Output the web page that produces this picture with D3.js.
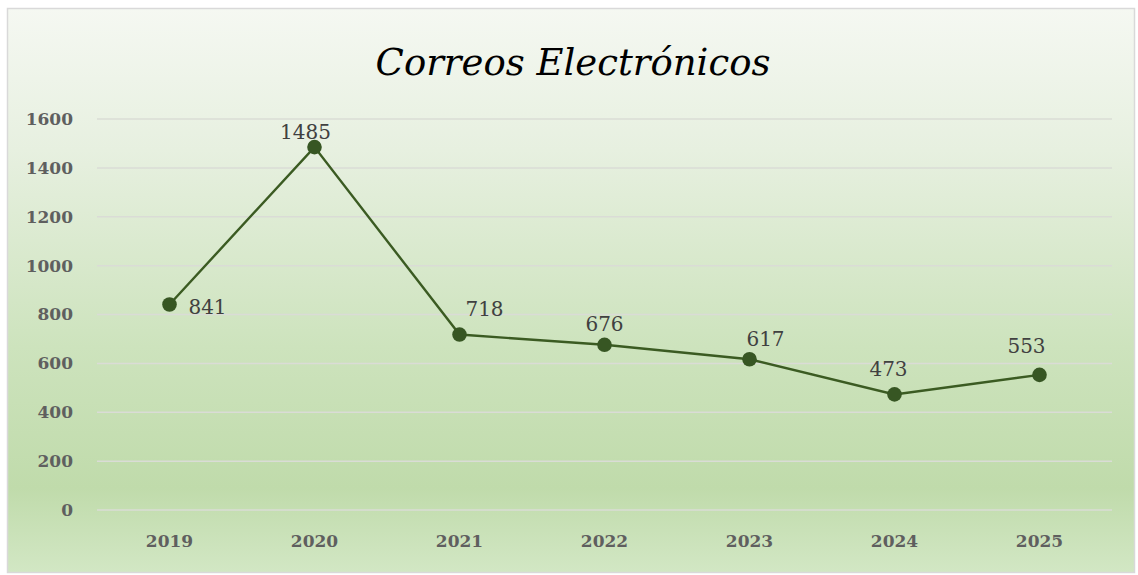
<!DOCTYPE html>
<html><head><meta charset="utf-8">
<script src="https://cdn.jsdelivr.net/npm/d3@7/dist/d3.min.js"></script>
<style>html,body{margin:0;padding:0;background:#fff;}svg{display:block;}</style>
</head><body>
<svg id="c" width="1138" height="575"></svg>
<script>
const title = "Correos Electrónicos";
const years = ["2019","2020","2021","2022","2023","2024","2025"];
const values = [841,1485,718,676,617,473,553];
const yTicks = [0,200,400,600,800,1000,1200,1400,1600];
// label offsets (relative to each point, px): layout only
const labelDx = [38,-9,25,0,16,-6,-13];
const labelDy = [10,-8,-19,-14,-13,-18,-22];

const W=1138,H=575;
const svg=d3.select("#c");
const defs=svg.append("defs");
const g=defs.append("linearGradient").attr("id","bg").attr("x1",0).attr("y1",0).attr("x2",0).attr("y2",1);
g.append("stop").attr("offset","0%").attr("stop-color","#f5f8f2");
g.append("stop").attr("offset","25%").attr("stop-color","#e7f0e0");
g.append("stop").attr("offset","60%").attr("stop-color","#cde3bd");
g.append("stop").attr("offset","85%").attr("stop-color","#c0dbab");
g.append("stop").attr("offset","100%").attr("stop-color","#d2e7c4");

svg.append("rect").attr("x",7.5).attr("y",8.5).attr("width",1127).attr("height",564)
  .attr("fill","url(#bg)").attr("stroke","#d9d9d9").attr("stroke-width",1.5);

const serif="'Palatino Linotype','Book Antiqua','DejaVu Serif','Liberation Serif',serif";
svg.append("text").attr("x",573).attr("y",75).attr("text-anchor","middle")
  .attr("font-family",serif).attr("font-style","italic").attr("font-size",37).attr("fill","#000")
  .text(title);

const x=d3.scaleBand().domain(years).range([97,1112]);
const y=d3.scaleLinear().domain([0,1600]).range([510,119]);

const grid=svg.append("g");
grid.selectAll("line").data(yTicks).join("line")
  .attr("x1",97).attr("x2",1112).attr("y1",d=>y(d)).attr("y2",d=>y(d))
  .attr("stroke","#dadcd6").attr("stroke-width",1.5);

const yAxis=svg.append("g").attr("transform","translate(97,0)")
  .call(d3.axisLeft(y).tickValues(yTicks).tickFormat(d3.format("d")).tickSize(0).tickPadding(24));
yAxis.select(".domain").remove();
yAxis.selectAll("text").attr("font-family",serif).attr("font-size",17).attr("font-weight","bold").attr("fill","#5f5f5f");

const xAxis=svg.append("g").attr("transform","translate(0,510)")
  .call(d3.axisBottom(x).tickSize(0).tickPadding(25));
xAxis.select(".domain").remove();
xAxis.selectAll("text").attr("font-family",serif).attr("font-size",17).attr("font-weight","bold").attr("fill","#5f5f5f");

const cx=(d,i)=>x(years[i])+x.bandwidth()/2;
const line=d3.line().x((d,i)=>cx(d,i)).y(d=>y(d));
svg.append("path").datum(values).attr("d",line).attr("fill","none")
  .attr("stroke","#3b5b22").attr("stroke-width",2.4);
svg.selectAll("circle.pt").data(values).join("circle").attr("class","pt")
  .attr("cx",(d,i)=>cx(d,i)).attr("cy",d=>y(d)).attr("r",7.3).attr("fill","#375623");

svg.selectAll("text.lbl").data(values).join("text").attr("class","lbl")
  .attr("font-family",serif).attr("font-size",20).attr("fill","#404040")
  .attr("text-anchor","middle")
  .attr("x",(d,i)=>cx(d,i)+labelDx[i])
  .attr("y",(d,i)=>y(d)+labelDy[i])
  .text(d=>d);
</script>
</body></html>
